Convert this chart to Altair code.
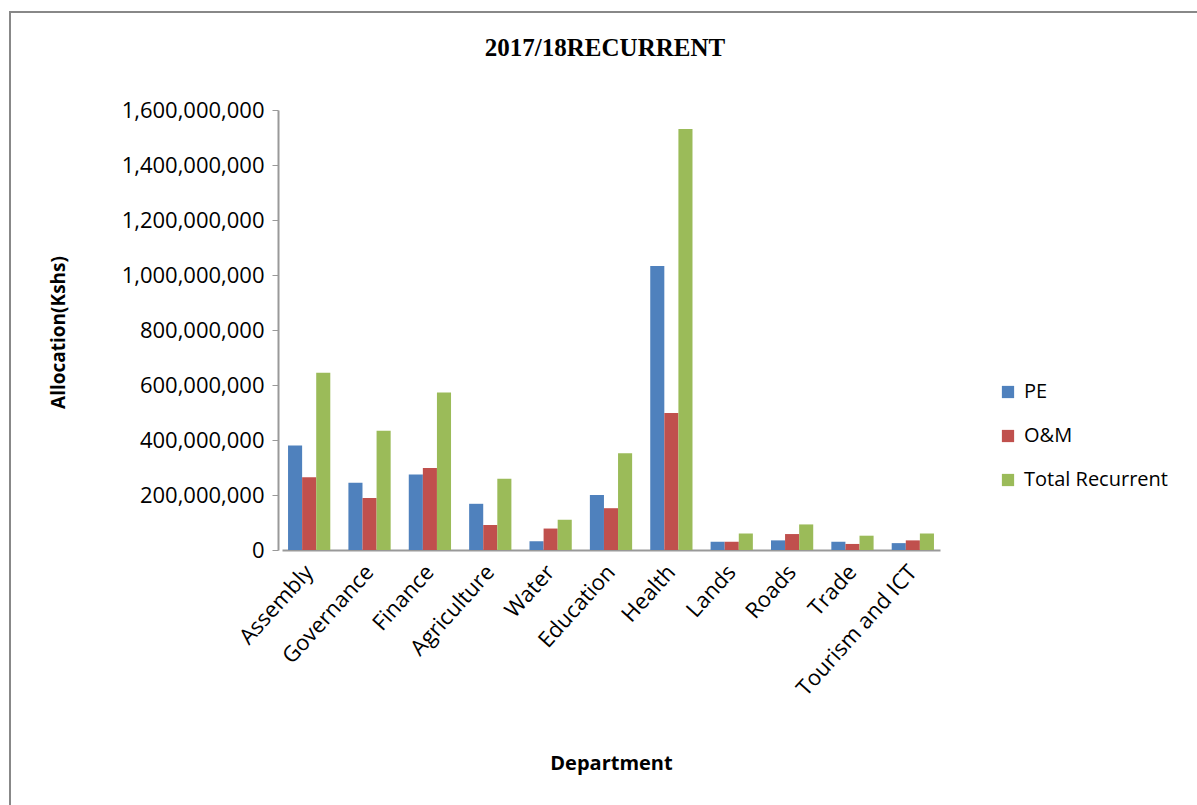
import altair as alt
import pandas as pd

departments = ["Assembly", "Governance", "Finance", "Agriculture", "Water", "Education",
               "Health", "Lands", "Roads", "Trade", "Tourism and ICT"]
pe = [380e6, 245e6, 275e6, 168e6, 32e6, 200e6, 1033e6, 30e6, 35e6, 30e6, 25e6]
om = [265e6, 189e6, 298e6, 91e6, 78e6, 152e6, 498e6, 30e6, 58e6, 22e6, 35e6]
total = [645e6, 434e6, 573e6, 259e6, 110e6, 352e6, 1531e6, 60e6, 93e6, 52e6, 60e6]
series = ["PE", "O&M", "Total Recurrent"]
colors = ["#4F81BD", "#C0504D", "#9BBB59"]
title_text = "2017/18RECURRENT"

rows = []
for i, d in enumerate(departments):
    for s, vals in zip(series, [pe, om, total]):
        rows.append({"Department": d, "Series": s, "Value": vals[i]})
df = pd.DataFrame(rows)

FONT = "Open Sans"

bars = alt.Chart(df).mark_bar().encode(
    x=alt.X("Department:N", sort=departments,
            scale=alt.Scale(paddingInner=0.3, paddingOuter=0.1),
            axis=alt.Axis(title="Department", labelAngle=-48, labelFontSize=22,
                          labelFont=FONT, labelColor="#000", ticks=False,
                          domainColor="#999", domainWidth=2, labelPadding=18,
                          titleFont=FONT, titleFontSize=20, titleFontWeight="bold",
                          titleColor="#000", titleY=213, titleBaseline="middle")),
    xOffset=alt.XOffset("Series:N", sort=series),
    y=alt.Y("Value:Q",
            scale=alt.Scale(domain=[0, 1600000000]),
            axis=alt.Axis(title="Allocation(Kshs)", format=",d",
                          values=[0, 200e6, 400e6, 600e6, 800e6, 1000e6, 1200e6, 1400e6, 1600e6],
                          labelFontSize=22, labelFont=FONT, labelColor="#000",
                          grid=False, domainColor="#999", domainWidth=2,
                          tickColor="#999", tickSize=6, offset=4, labelPadding=8,
                          titleFont=FONT, titleFontSize=19, titleFontWeight="bold",
                          titleColor="#000", titleX=-220, titleY=222, titleAngle=-90,
                          titleBaseline="middle", titleAlign="center")),
    color=alt.Color("Series:N", sort=series,
                    scale=alt.Scale(domain=series, range=colors),
                    legend=alt.Legend(title=None, orient="none", legendX=716, legendY=272,
                                      symbolType="square", symbolSize=150,
                                      symbolStrokeWidth=0,
                                      labelFont=FONT, labelFontSize=20, labelColor="#000",
                                      rowPadding=24, labelOffset=6)),
)

border = alt.Chart(pd.DataFrame({"a": [0]})).mark_rect(
    fill=None, stroke="#888", strokeWidth=2
).encode(
    x=alt.value(-272), x2=alt.value(930), y=alt.value(-98), y2=alt.value(710)
)

title = alt.Chart(pd.DataFrame({"t": [title_text]})).mark_text(
    font="Liberation Serif", fontSize=25, fontWeight="bold", color="#000",
    align="center", baseline="alphabetic"
).encode(text="t:N", x=alt.value(323), y=alt.value(-54))

chart = alt.layer(border, bars, title).properties(
    width=658, height=440,
    background="white",
    autosize=alt.AutoSizeParams(type="none"),
    padding={"left": 282, "top": 110, "right": 257, "bottom": 255},
).configure_view(stroke=None, strokeWidth=0)

chart.save("out.html", embed_options={"renderer": "svg", "actions": False})
